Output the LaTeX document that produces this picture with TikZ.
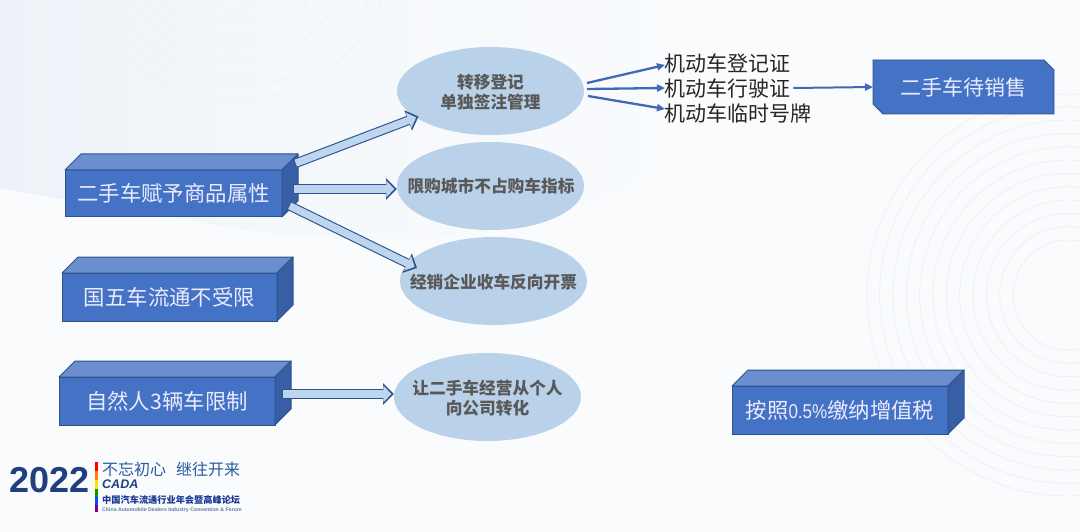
\documentclass[tikz,border=0pt]{standalone}
\usepackage{fontspec}
\setmainfont{Noto Sans CJK SC}
\newfontfamily\latinsans{Liberation Sans}
\usetikzlibrary{arrows.meta,shapes.geometric,shapes.misc,calc}
\definecolor{pagebg}{HTML}{F9FBFD}
\definecolor{washA}{HTML}{EDF2F8}
\definecolor{washM}{HTML}{F6F9FC}
\definecolor{ringA}{HTML}{EEF1F5}
\definecolor{ringB}{HTML}{EFF3F8}
\definecolor{boxfront}{HTML}{4472C4}
\definecolor{boxtop}{HTML}{6A8ECE}
\definecolor{boxside}{HTML}{385EA6}
\definecolor{boxline}{HTML}{2F528F}
\definecolor{oval}{HTML}{BAD2E9}
\definecolor{ovaltext}{HTML}{595959}
\definecolor{shaft}{HTML}{BDD6EE}
\definecolor{thin}{HTML}{4169B5}
\definecolor{navy}{HTML}{1F3F7F}
\definecolor{inktext}{HTML}{2A5A9E}
\tikzset{
  frontbox/.style={draw=boxline,line width=1pt,fill=boxfront,text=white!92!blue,font=\fontsize{21.4}{24}\selectfont,inner sep=0pt,outer sep=0pt},
  ovalnode/.style={ellipse,fill=oval,draw=none,inner sep=0pt,outer sep=0pt,minimum width=187pt,minimum height=88pt},
  ovallabel/.style={align=center,inner sep=0pt,text=ovaltext,font=\fontsize{16.7}{20}\selectfont\bfseries},
  listitem/.style={anchor=west,inner sep=0pt,text=black!85,font=\fontsize{21}{24}\selectfont},
  thinarrow/.style={draw=thin,line width=2.3pt,-{Triangle[length=8pt,width=7pt]}},
  snipbox/.style={chamfered rectangle,chamfered rectangle corners={north east,south west},chamfered rectangle xsep=5pt,chamfered rectangle ysep=5pt,draw=boxline,line width=.8pt,fill=boxfront,text=white!92!blue,font=\fontsize{21}{24}\selectfont,inner sep=0pt,outer sep=0pt},
  logotext/.style={anchor=west,inner sep=0pt},
}
\newcommand{\solidbox}[6]{%
  \node[frontbox,minimum width={(#4-#2)*1pt},minimum height={(#5-#3)*1pt}] (#1) at ({(#2+#4)/2},{(#3+#5)/2}) {#6};
  \filldraw[draw=boxline,line width=1pt,fill=boxtop,line join=round] (#1.north west) -- ++(16,-16) -- ++({#4-#2},0) -- (#1.north east) -- cycle;
  \filldraw[draw=boxline,line width=1pt,fill=boxside,line join=round] (#1.north east) -- ++(16,-16) -- ++(0,{#5-#3}) -- (#1.south east) -- cycle;
}
\newcommand{\blockarrow}[2]{%
  \draw[draw=boxline,line width=9.5pt,-{Triangle[length=11pt,width=21pt,color=boxline]}] #1 -- #2;
  \draw[draw=shaft,line width=7.3pt,shorten >=2.6pt,shorten <=.8pt,-{Triangle[length=8pt,width=16pt,color=shaft]}] #1 -- #2;
}
\begin{document}
\begin{tikzpicture}[x=1pt,y=-1pt]
\useasboundingbox (0,0) rectangle (1080,532);
\begin{scope}
\clip (0,0) rectangle (1080,532);
\fill[pagebg] (0,0) rectangle (1080,532);
\shade[left color=washA,right color=pagebg,middle color=washM] (0,0) -- (700,0) -- (700,130) .. controls (600,240) and (400,260) .. (200,222) .. controls (120,208) and (60,200) .. (0,188) -- cycle;
\foreach \r in {55,68.3,81.6,95,108.3,121.6,135,148.3,161.6,175,188.3,201}
  \draw[ringA,line width=.8pt] (1068,295) circle (\r);
\foreach \r in {54,67,80,93,106,119,132,145,158}
  \draw[ringB,line width=.7pt] (235,-58) circle (\r);
\end{scope}

\solidbox{b1}{65}{170}{282}{217}{二手车赋予商品属性}
\solidbox{b2}{62}{273}{277}{321}{国五车流通不受限}
\solidbox{b3}{59}{377}{275}{425}{自然人3辆车限制}
\solidbox{b4}{732}{386}{948}{434}{按照{\latinsans\fontsize{20}{22}\selectfont\scalebox{.85}[1]{0.5\%}}缴纳增值税}

\node[snipbox,minimum width=181pt,minimum height=54pt] (s1) at (963.5,87) {二手车待销售};

\node[ovalnode] (e1) at (490.5,91) {};
\node[ovalnode] (e2) at (490.5,186) {};
\node[ovalnode] (e3) at (493.5,281) {};
\node[ovalnode] (e4) at (487.5,397) {};
\node[ovallabel] (e1t) at (490.5,92.5) {转移登记\\单独签注管理};
\node[ovallabel] (e2t) at (491,186.5) {限购城市不占购车指标};
\node[ovallabel] (e3t) at (493.5,282) {经销企业收车反向开票};
\node[ovallabel] (e4t) at (487.5,398.5) {让二手车经营从个人\\向公司转化};

\node[listitem] (t1) at (664,63) {机动车登记证};
\node[listitem] (t2) at (664,88) {机动车行驶证};
\node[listitem] (t3) at (664,113) {机动车临时号牌};

\coordinate (a1s) at ([shift={(13,-30)}]b1.east);
\coordinate (a1e) at (418.5,116.5);
\coordinate (a2s) at ([shift={(11,-4.5)}]b1.east);
\coordinate (a2e) at ([yshift=-3pt]e2.west);
\coordinate (a3s) at ([shift={(7,12)}]b1.east);
\coordinate (a3e) at (417,268);
\coordinate (a4s) at ([shift={(7,-7)}]b3.east);
\coordinate (a4e) at ([yshift=3pt]e4.west);

\blockarrow{(a1s)}{(a1e)}
\blockarrow{(a2s)}{(a2e)}
\blockarrow{(a3s)}{(a3e)}
\blockarrow{(a4s)}{(a4e)}

\draw[thinarrow] ([shift={(3,-8)}]e1.east) -- ([shift={(1,2)}]t1.west);
\draw[thinarrow] ([shift={(3,-2)}]e1.east) -- ([shift={(1,0)}]t2.west);
\draw[thinarrow] ([shift={(4,5)}]e1.east) -- ([shift={(1,-4)}]t3.west);
\draw[thinarrow,line width=2pt] ([xshift=3pt]t2.east) -- (s1.west);

% logo
\node[logotext,font=\latinsans\fontsize{36}{36}\selectfont\bfseries,text=navy] (l0) at (9,480) {2022};
\foreach \c/\a/\b in {red/462/471,orange/471/480,yellow!85!orange/480/489,green!60!black/489/497,blue!70!cyan/497/505,violet/505/512}
  \fill[\c] (95,\a) rectangle (97.5,\b);
\node[logotext,font=\fontsize{16}{16}\selectfont,text=inktext] (l1) at (102,469.5) {不忘初心\hspace{10pt}继往开来};
\node[logotext,font=\latinsans\fontsize{12.5}{13}\selectfont\bfseries\itshape,text=navy] (l2) at (102,484.5) {CADA};
\node[logotext,font=\fontsize{9.2}{10}\selectfont\bfseries,text=navy!85!blue] (l3) at (102,500) {中国汽车流通行业年会暨高峰论坛};
\node[logotext,font=\latinsans\fontsize{5.2}{6}\selectfont\bfseries,text=navy!70] (l4) at (102,510) {China Automobile Dealers Industry Convention \& Forum};
\end{tikzpicture}
\end{document}
